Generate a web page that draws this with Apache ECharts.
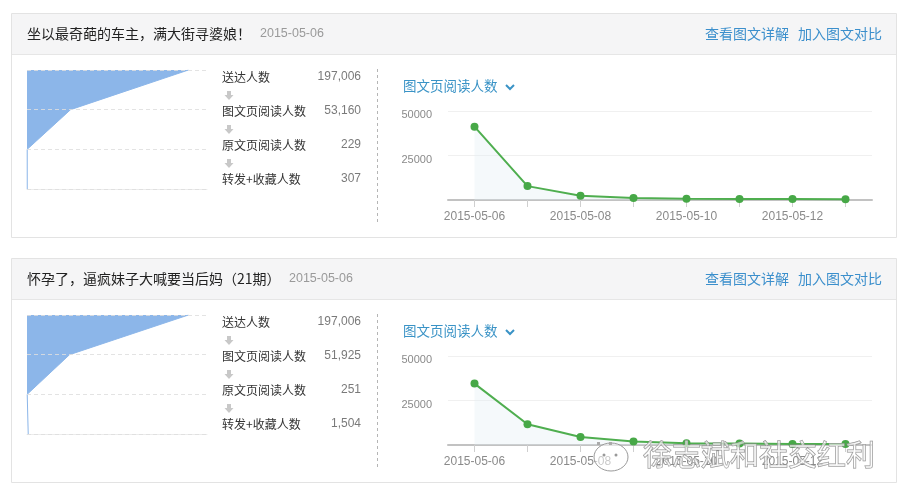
<!DOCTYPE html>
<html>
<head>
<meta charset="utf-8">
<script src="https://cdn.jsdelivr.net/npm/echarts@6/dist/echarts.min.js"></script>
<style>
html,body{margin:0;padding:0;background:#fff;}
#c{width:908px;height:500px;}
</style>
</head>
<body>
<div id="c"></div>
<script>
// ---- data ----
const titles = ['坐以最奇葩的车主，满大街寻婆娘！', '怀孕了，逼疯妹子大喊要当后妈（21期）'];
const pubDates = ['2015-05-06', '2015-05-06'];
const links = ['查看图文详解', '加入图文对比'];
const funnelLabels = ['送达人数', '图文页阅读人数', '原文页阅读人数', '转发+收藏人数'];
const funnel1 = [197006, 53160, 229, 307];
const funnel2 = [197006, 51925, 251, 1504];
const chartTitle = '图文页阅读人数';
const days = ['2015-05-06', '2015-05-07', '2015-05-08', '2015-05-09', '2015-05-10', '2015-05-11', '2015-05-12', '2015-05-13'];
const reads1 = [41200, 7800, 2400, 1100, 700, 600, 500, 450];
const reads2 = [34500, 11700, 4500, 1900, 1000, 800, 600, 500];
const yTicks = [0, 25000, 50000];
const watermark = '徐志斌和社交红利';

// ---- layout ----
const OFF = 245;
const FONT = '"Liberation Sans", Arial, "Noto Sans CJK SC", sans-serif';
const CJK = '"Noto Sans CJK SC", "Liberation Sans", sans-serif';
const BLUE = '#3b8fcc';
const funnels = [funnel1, funnel2];
const reads = [reads1, reads2];

const graphics = [];
const grids = [], xAxes = [], yAxes = [], series = [];

for (let k = 0; k < 2; k++) {
  const o = k * OFF;
  // card
  graphics.push({type: 'rect', z: -10, shape: {x: 11.5, y: 13.5 + o, width: 885, height: 224}, style: {fill: '#fff', stroke: '#e3e3e3', lineWidth: 1}});
  graphics.push({type: 'rect', z: -9, shape: {x: 12, y: 14 + o, width: 884, height: 40}, style: {fill: '#f5f5f6'}});
  graphics.push({type: 'line', z: -8, shape: {x1: 12, y1: 54.5 + o, x2: 896, y2: 54.5 + o}, style: {stroke: '#e6e6e6', lineWidth: 1}});
  // header title
  graphics.push({type: 'text', x: 27, y: 34 + o, style: {text: titles[k], fill: '#222', font: '14px ' + CJK, align: 'left', verticalAlign: 'middle'}});
  graphics.push({type: 'text', x: k === 0 ? 260 : 289, y: 34 + o, style: {text: pubDates[k], fill: '#9a9a9a', font: '12.5px ' + FONT, align: 'left', verticalAlign: 'middle'}});
  graphics.push({type: 'text', x: 705, y: 34 + o, style: {text: links[0], fill: BLUE, font: '14px ' + CJK, align: 'left', verticalAlign: 'middle'}});
  graphics.push({type: 'text', x: 798, y: 34 + o, style: {text: links[1], fill: BLUE, font: '14px ' + CJK, align: 'left', verticalAlign: 'middle'}});
  // stats list
  const fv = funnels[k];
  for (let i = 0; i < funnelLabels.length; i++) {
    const yy = 77 + i * 34 + o;
    graphics.push({type: 'text', x: 222, y: yy, style: {text: funnelLabels[i], fill: '#333', font: '12px ' + CJK, align: 'left', verticalAlign: 'middle'}});
    graphics.push({type: 'text', x: 361, y: yy, style: {text: fv[i].toLocaleString('en-US'), fill: '#7a7a7a', font: '12px ' + FONT, align: 'right', verticalAlign: 'middle'}});
    if (i < funnelLabels.length - 1) {
      const ay = yy + 14;
      graphics.push({type: 'rect', shape: {x: 227, y: ay, width: 4, height: 4}, style: {fill: '#c8c8c8'}});
      graphics.push({type: 'polygon', shape: {points: [[224.5, ay + 4], [233.5, ay + 4], [229, ay + 9]]}, style: {fill: '#c8c8c8'}});
    }
  }
  // separator
  graphics.push({type: 'line', shape: {x1: 377.5, y1: 69 + o, x2: 377.5, y2: 222 + o}, style: {stroke: '#b5b5b5', lineWidth: 1, lineDash: [3, 3]}});
  // line chart title + chevron
  graphics.push({type: 'text', x: 403, y: 86 + o, style: {text: chartTitle, fill: '#3a93c6', font: '13.5px ' + CJK, align: 'left', verticalAlign: 'middle'}});
  graphics.push({type: 'polyline', shape: {points: [[506, 85 + o], [510, 89 + o], [514, 85 + o]]}, style: {stroke: '#3a93c6', lineWidth: 2, fill: null}});

  // funnel grid
  grids.push({left: 27, top: 70 + o, width: 180, height: 119});
  xAxes.push({type: 'value', gridIndex: 2 * k, min: 0, max: Math.max(...fv) * 1.115,
    axisLine: {show: true, lineStyle: {color: '#ececec'}}, axisTick: {show: false}, axisLabel: {show: false}, splitLine: {show: false}});
  yAxes.push({type: 'category', gridIndex: 2 * k, data: funnelLabels, inverse: true, boundaryGap: false, z: 5,
    axisLine: {show: false}, axisTick: {show: false}, axisLabel: {show: false},
    splitLine: {show: true, lineStyle: {color: 'rgba(222,222,222,0.85)', type: [4, 3], width: 1}}});
  series.push({type: 'line', xAxisIndex: 2 * k, yAxisIndex: 2 * k, symbol: 'none', silent: true,
    data: fv.map((v, i) => [v, funnelLabels[i]]),
    lineStyle: {color: '#8cb6e9', width: 1}, areaStyle: {color: '#8cb6e9', opacity: 1}});

  // line grid
  grids.push({left: 448, top: 111 + o, width: 424, height: 89});
  xAxes.push({type: 'category', gridIndex: 2 * k + 1, data: days, boundaryGap: true,
    axisLine: {show: true, lineStyle: {color: '#c2c2c2', width: 2}},
    axisTick: {show: true, alignWithLabel: true, interval: 0, length: 7, lineStyle: {color: '#cfcfcf'}},
    axisLabel: {interval: 1, color: '#8a8a8a', fontSize: 12, fontFamily: FONT, margin: 11},
    splitLine: {show: false}});
  yAxes.push({type: 'value', gridIndex: 2 * k + 1, min: yTicks[0], max: yTicks[yTicks.length - 1], interval: yTicks[1] - yTicks[0],
    axisLine: {show: false}, axisTick: {show: false},
    axisLabel: {showMinLabel: false, formatter: v => String(v), color: '#8a8a8a', fontSize: 11, fontFamily: FONT, margin: 16, verticalAlign: 'top', lineHeight: 8},
    splitLine: {show: true, lineStyle: {color: '#f0f0f0'}}});
  series.push({type: 'line', xAxisIndex: 2 * k + 1, yAxisIndex: 2 * k + 1, data: reads[k],
    symbol: 'circle', symbolSize: 8, silent: true,
    lineStyle: {color: '#4fae4f', width: 2}, itemStyle: {color: '#47a847'},
    areaStyle: {color: 'rgba(225,235,242,0.45)'}});
}

// watermark
graphics.push({type: 'ellipse', z: 100, shape: {cx: 611, cy: 457, rx: 17, ry: 14}, style: {fill: 'rgba(255,255,255,0.55)', stroke: '#9a9a9a', lineWidth: 1}});
graphics.push({type: 'circle', z: 101, shape: {cx: 604, cy: 455, r: 1.5}, style: {fill: '#999'}});
graphics.push({type: 'circle', z: 101, shape: {cx: 616, cy: 455, r: 1.5}, style: {fill: '#999'}});
graphics.push({type: 'rect', z: 101, shape: {x: 597, y: 442, width: 3, height: 3}, style: {fill: '#aaa'}});
graphics.push({type: 'rect', z: 101, shape: {x: 609, y: 442, width: 3, height: 3}, style: {fill: '#aaa'}});
graphics.push({type: 'text', z: 100, x: 643, y: 455, style: {text: watermark, fill: 'rgba(255,255,255,0.6)', stroke: '#8e8e8e', lineWidth: 1, font: '29px ' + CJK, align: 'left', verticalAlign: 'middle'}});

const chart = echarts.init(document.getElementById('c'), null, {renderer: 'canvas'});
chart.setOption({
  animation: false,
  backgroundColor: '#fff',
  grid: grids,
  xAxis: xAxes,
  yAxis: yAxes,
  series: series,
  graphic: graphics
});
</script>
</body>
</html>
